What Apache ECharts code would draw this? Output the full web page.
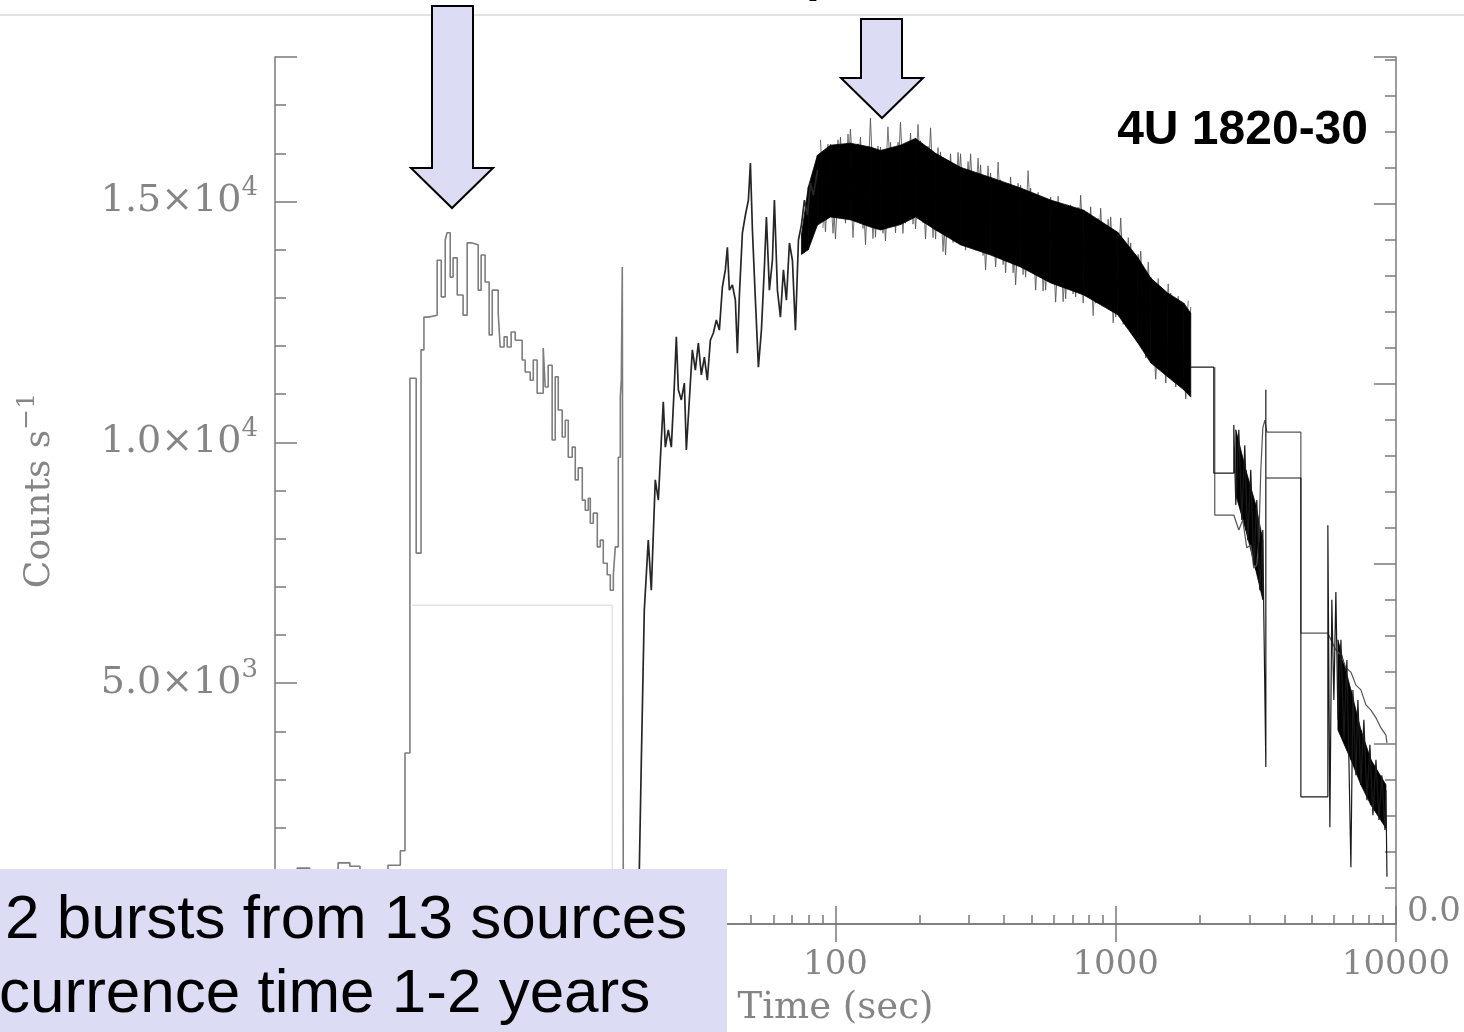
<!DOCTYPE html>
<html>
<head>
<meta charset="utf-8">
<script src="https://cdn.jsdelivr.net/npm/echarts@6/dist/echarts.min.js"></script>
<style>
  html, body { margin: 0; padding: 0; background: #fff; }
  #chart { width: 1464px; height: 1032px; }
</style>
</head>
<body>
<div id="chart"></div>
<script>
// ---- Light curve of the 4U 1820-30 superburst: counts per second vs time since onset ----

// Precursor burst (binned histogram), time in s, rate in counts/s
const precursorBurst = [
  [1.00,1060],[1.20,1160],[1.33,1080],[1.68,1270],[1.85,1200],[2.01,1080],[2.53,1220],[2.80,1520],
  [2.91,3550],[3.03,11330],[3.19,7700],[3.32,11920],[3.40,12600],[3.52,12640],[3.79,13780],[3.92,13020],
  [4.05,14200],[4.11,14350],[4.22,13430],[4.32,13830],[4.47,13060],[4.69,12640],[4.85,14140],[5.05,14100],
  [5.31,13160],[5.44,13890],[5.62,13330],[5.81,12230],[5.96,13160],[6.26,12680],[6.36,11980],[6.57,12190],
  [6.74,11980],[6.96,12290],[7.20,12120],[7.62,11710],[7.81,11460],[8.14,11290],[8.35,11710],[8.62,11020],
  [9.06,11960],[9.21,11150],[9.44,11600],[9.75,10050],[10.0,11360],[10.25,10670],[10.59,10110],[10.86,10460],
  [11.13,9690],[11.50,9900],[11.79,9220],[12.08,9470],[12.49,8800],[12.80,8590],[13.12,8840],[13.34,8320],
  [13.67,8530],[14.13,7830],[14.48,7970],[14.84,7490],[15.33,7250],[15.72,6930],[16.12,7250],[16.38,7830],
  [16.79,9690],[17.07,10940],[17.21,11290],[17.35,13640],[17.50,0],[19.79,0]
];

// Faint constant-level trace under the precursor
const faintLevel = [[3.09,6620],[15.98,6620],[15.98,0]];

// Rise of the superburst
const superburstRise = [
  [19.79,0],[20.29,3405],[20.79,6520],[21.48,7970],[22.02,6930],[22.75,9220],[23.33,8800],[23.91,10050],
  [24.30,10840],[24.71,9900],[25.32,10260],[25.96,9900],[26.61,11190],[27.05,12190],[27.50,11090],[28.18,10880],
  [28.89,11230],[29.37,9840],[30.10,10880],[30.85,11920],[31.62,11500],[32.41,12060],[33.22,11400],[34.05,11770],
  [34.90,11290],[35.77,12120],[36.67,12270],[37.58,12540],[38.52,12330],[39.48,13220],[40.46,13580],[41.14,14050],
  [41.82,13160],[42.87,13270],[43.94,12950],[44.67,11850],[45.41,13060],[46.55,14350],[47.71,14720],[48.90,15030],
  [49.71,15800],[50.54,14410],[51.80,12950],[53.09,11560],[54.42,12330],[55.77,13640],[56.70,14680],[58.11,13160],
  [59.57,13780],[60.55,15030],[62.07,13160],[63.62,12600],[65.21,13580],[66.83,12950],[68.50,14140],[70.21,13780],
  [71.97,12330],[73.77,14200],[75.60,14510],[77.49,15030],[79.43,14720],[81.41,15380],[83.45,15130],[86.24,15650]
];

// Dense plateau/decay: core of the scatter band (low and high edges)
const bandTime = [75.6,80.0,86.2,96.0,113.1,133.3,144.8,170.6,193.1,227.6,279.5,357.7,457.8,585.9,768.7,1017,1198,1334,1533,1750,1853];
const bandHigh = [14300,15300,15960,16170,16210,16130,16060,16170,16310,16000,15710,15500,15280,15030,14820,14360,13840,13410,13100,12890,12680];
const bandLow  = [13900,14000,14510,14680,14620,14470,14410,14520,14680,14410,14100,13890,13640,13310,13060,12650,12070,11650,11360,11090,10940];

// Individual excursions outside the core band (two interleaved sets)
const spikeTime = [88.4,92.1,96.0,100.0,104.2,108.6,113.1,117.9,122.8,128.0,133.3,138.9,144.8,150.8,157.2,163.8,170.6,177.8,185.3,193.1,
  201.2,209.6,218.4,227.6,237.1,247.1,257.4,268.3,279.5,291.2,303.5,316.2,329.5,343.3,357.7,372.8,388.4,404.7,421.7,439.4,
  457.8,477.0,497.1,517.9,539.7,562.3,585.9,610.5,636.1,662.8,690.6,719.6,749.8,781.3,814.1,848.2,883.8,920.9,959.6,1000,
  1042,1086,1131,1179,1228,1280,1334,1389,1448,1509,1572,1638,1706,1778,1853];
const spikeRate = [16280,14370,16190,14220,16340,14550,16500,14590,16340,14100,
  16730,14260,16130,14180,16230,14350,16650,14550,16420,14430,
  16260,14220,16530,14220,16030,13890,15990,14200,15990,13990,
  15990,13990,15760,13580,15590,13640,15450,13520,15510,13270,
  15340,13430,15280,13160,15030,13160,15090,12910,14910,12980,
  14930,13020,15130,13080,14890,12890,14860,12870,14680,12600,
  14660,12410,14140,12190,13970,11750,13430,11310,13200,11230,
  13100,11150,12870,10900,12810];
const spikeTime2 = [90.2,94.0,98.0,102.1,106.4,110.9,115.5,120.4,125.4,130.7,136.1,141.8,147.8,153.9,160.5,167.2,174.1,181.5,189.2,197.1,
  205.4,214.0,222.9,232.3,242.0,252.2,262.8,273.9,285.3,297.3,309.8,322.8,336.3,350.4,365.1,380.6,396.5,413.1,430.5,448.5,
  467.3,486.9,507.4,528.7,550.9,574.0,598.1,623.2,649.3,676.6,705.0,734.6,765.4,797.5,831.0,865.8,902.2,940.1,979.5,1021,
  1064,1109,1155,1203,1254,1307,1362,1418,1478,1540,1605,1672,1742,1815];
const spikeRate2 = [14450,16190,14340,16280,14660,16400,14250,16200,14440,16100,
  14230,16150,14340,16550,14540,16230,14340,16180,14530,16600,
  14560,16150,14250,16120,13960,15850,14150,16020,14080,15830,
  14120,15900,13880,15740,13890,15820,13690,15380,13520,15380,
  13480,15640,13570,15190,13140,15020,13320,15110,12920,14790,
  13080,14880,12890,14730,12630,14650,12920,14630,12480,14290,
  12450,14250,12310,13900,11940,13740,11610,13400,11560,13290,
  11280,13030,11210,12940];

// Late orbits: dense segments (low and high edges)
const lateBandATime = [2683,2912,3162,3350];
const lateBandAHigh = [10260,9430,8700,7970];
const lateBandALow  = [8910,8180,7350,6730];
const lateBandBTime = [6209,6907,7499,8143,9211];
const lateBandBHigh = [5900,4860,4030,3410,2890];
const lateBandBLow  = [4030,3410,2890,2470,1990];

// Late orbits: binned averages and individual traces
const lateTraceA = [
  [1853,11560],[2239,11560],[2239,9360],[2639,9360],[2639,10360],[2683,8700],[2750,10260],[2818,8390],[2888,9940],
  [2960,7970],[3034,9430],[3111,7450],[3188,8800],[3268,6930],[3350,8180],[3378,6370],[3434,3260],[3434,11090],
  [3434,9260],[4579,9260],[4579,2640],[5716,2640],[5716,8280],[5812,2010],[5906,6730],[6005,4650],[6105,6890],
  [6209,4240],[6364,5900],[6523,3820],[6683,5480],[6795,3410],[6907,1180],[7022,4860],[7197,3090],[7316,4650],
  [7499,2890],[7686,4240],[7878,2570],[8076,3720],[8278,2260],[8486,3410],[8698,2160],[8913,3090],[9135,1950],
  [9211,2780],[9290,980]
];
const lateTraceB = [
  [2257,11560],[2257,8490],[2639,8490],[2750,8180],[2840,8390],[2936,7810],[3034,7870],[3111,7390],[3188,7450],
  [3241,7970],[3295,9430],[3350,10300],[3406,10460],[3463,10210],[4579,10210],[4579,6040],[5716,6040],[5860,5900],
  [6105,5690],[6364,5580],[6630,5320],[6907,5230],[7197,4960],[7499,4860],[7815,4550],[8143,4440],[8486,4280],
  [8842,4070],[9211,3920],[9290,3760]
];

// Axis ticks
const timeMinorTicks = [2,3,4,5,6,7,8,9,20,30,40,50,60,70,80,90,200,300,400,500,600,700,800,900,
  2000,3000,4000,5000,6000,7000,8000,9000];
const rateMax = 18000;
const rightAxisMax = 4.8167;

const SERIF = "'DejaVu Serif', 'Liberation Serif', serif";
const SANS = "'Liberation Sans', Arial, sans-serif";
const AXIS = '#7a7a7a';
const LABEL = '#858585';
const LAVENDER = '#dcdcf5';

const zip = (t, v) => t.map((x, i) => [x, v[i]]);

function trace(data, color, width, extra) {
  return Object.assign({
    type: 'line', data, symbol: 'none', showSymbol: false, silent: true,
    lineStyle: { color, width }, itemStyle: { color }, clip: true, z: 4
  }, extra || {});
}

// Filled band between a low and a high edge, one quad per pair of samples
function band(time, low, high) {
  const segs = [];
  for (let i = 0; i < time.length - 1; i++) {
    segs.push([time[i], low[i], high[i], time[i + 1], low[i + 1], high[i + 1]]);
  }
  return {
    type: 'custom', silent: true, clip: true, data: segs, z: 3,
    encode: { x: [0, 3], y: [1, 2, 4, 5] },
    renderItem: (params, api) => {
      const p1 = api.coord([api.value(0), api.value(2)]);
      const p2 = api.coord([api.value(3), api.value(5)]);
      const p3 = api.coord([api.value(3), api.value(4)]);
      const p4 = api.coord([api.value(0), api.value(1)]);
      return {
        type: 'polygon', shape: { points: [p1, p2, p3, p4] },
        style: { fill: '#000', stroke: '#000', lineWidth: 0.8 }
      };
    }
  };
}

const tickStyle = { color: AXIS, width: 1.5 };

const option = {
  animation: false,
  backgroundColor: '#ffffff',
  grid: { left: 275, right: 68, top: 57, bottom: 108 },
  xAxis: [
    {
      type: 'log', logBase: 10, min: 1, max: 10000, position: 'bottom',
      axisLine: { show: true, lineStyle: tickStyle },
      axisTick: { show: true, inside: true, length: 18, lineStyle: tickStyle },
      splitLine: { show: false },
      axisLabel: {
        formatter: v => String(Math.round(v)),
        fontFamily: SERIF, fontSize: 34, color: LABEL, margin: 24
      },
      name: 'Time (sec)', nameLocation: 'middle', nameGap: 66,
      nameTextStyle: { fontFamily: SERIF, fontSize: 37, color: LABEL }
    },
    {
      type: 'log', logBase: 10, min: 1, max: 10000, position: 'bottom',
      axisLine: { show: false },
      axisTick: { show: true, inside: true, length: 9, customValues: timeMinorTicks, lineStyle: tickStyle },
      axisLabel: { show: false }, splitLine: { show: false }
    },
    {
      type: 'log', logBase: 10, min: 1, max: 10000, position: 'top',
      axisLine: { show: true, lineStyle: tickStyle },
      axisTick: { show: true, inside: true, length: 18, lineStyle: tickStyle },
      axisLabel: { show: false }, splitLine: { show: false }
    }
  ],
  yAxis: [
    {
      type: 'value', min: 0, max: rateMax, interval: 5000, position: 'left',
      axisLine: { show: true, lineStyle: tickStyle },
      axisTick: { show: true, inside: true, length: 22, lineStyle: tickStyle },
      splitLine: { show: false },
      axisLabel: {
        margin: 17,
        formatter: v => {
          if (v <= 0 || v > 15000) return '';
          const e = Math.floor(Math.log10(v));
          const m = (v / Math.pow(10, e)).toFixed(1);
          return '{m|' + m + '×10}{e|' + e + '}';
        },
        rich: {
          m: { fontFamily: SERIF, fontSize: 38, color: LABEL, lineHeight: 52 },
          e: { fontFamily: SERIF, fontSize: 26, color: LABEL, lineHeight: 22, verticalAlign: 'top' }
        }
      },
      name: '{a|Counts s}{b|−1}', nameLocation: 'middle', nameGap: 210,
      nameTextStyle: {
        rich: {
          a: { fontFamily: SERIF, fontSize: 36, color: LABEL, lineHeight: 50 },
          b: { fontFamily: SERIF, fontSize: 25, color: LABEL, lineHeight: 22, verticalAlign: 'top' }
        }
      }
    },
    {
      type: 'value', min: 0, max: rateMax, interval: 1000, position: 'left',
      axisLine: { show: false },
      axisTick: { show: true, inside: true, length: 11, lineStyle: tickStyle },
      axisLabel: { show: false }, splitLine: { show: false }
    },
    {
      type: 'value', min: 0, max: rightAxisMax, interval: 1, position: 'right',
      axisLine: { show: true, lineStyle: tickStyle },
      axisTick: { show: true, inside: true, length: 22, lineStyle: tickStyle },
      splitLine: { show: false },
      axisLabel: {
        formatter: v => (v === 0 ? '0.0' : ''),
        fontFamily: SERIF, fontSize: 34, color: LABEL, margin: 11,
        verticalAlign: 'bottom', lineHeight: 24
      }
    },
    {
      type: 'value', min: 0, max: rightAxisMax, interval: 0.2, position: 'right',
      axisLine: { show: false },
      axisTick: { show: true, inside: true, length: 11, lineStyle: tickStyle },
      axisLabel: { show: false }, splitLine: { show: false }
    }
  ],
  series: [
    trace(faintLevel, '#e4e4e4', 1.5, { z: 2 }),
    trace(precursorBurst, '#7d7d7d', 1.6, { step: 'end', z: 2 }),
    trace(zip(spikeTime, spikeRate), '#555555', 0.9, { z: 2 }),
    trace(zip(spikeTime2, spikeRate2), '#666666', 0.9, { z: 2 }),
    band(bandTime, bandLow, bandHigh),
    trace(superburstRise, '#262626', 1.7),
    band(lateBandATime, lateBandALow, lateBandAHigh),
    band(lateBandBTime, lateBandBLow, lateBandBHigh),
    trace(lateTraceB, '#555555', 1.2),
    trace(lateTraceA, '#1a1a1a', 1.2)
  ],
  graphic: [
    { type: 'line', z: 90, shape: { x1: 0, y1: 15, x2: 1464, y2: 15 }, style: { stroke: '#e2e2e2', lineWidth: 2 } },
    { type: 'text', z: 90, x: 806, y: -23,
      style: { text: 'p', font: 'bold 50px ' + SANS, fill: '#000', align: 'left', verticalAlign: 'middle' } },
    { type: 'polygon', z: 100,
      shape: { points: [[432,6],[473,6],[473,168],[493,168],[452,208],[411,168],[432,168]] },
      style: { fill: LAVENDER, stroke: '#000', lineWidth: 2 } },
    { type: 'polygon', z: 100,
      shape: { points: [[861,19],[902,19],[902,78],[923,78],[882,118],[841,78],[861,78]] },
      style: { fill: LAVENDER, stroke: '#000', lineWidth: 2 } },
    { type: 'text', z: 100, x: 1368, y: 131,
      style: { text: '4U 1820-30', font: 'bold 48px ' + SANS, fill: '#000', align: 'right', verticalAlign: 'middle' } },
    { type: 'rect', z: 100, shape: { x: 0, y: 869, width: 727, height: 163 }, style: { fill: LAVENDER } },
    { type: 'text', z: 101, x: 5, y: 921,
      style: { text: '2 bursts from 13 sources', font: '62px ' + SANS, fill: '#000', align: 'left', verticalAlign: 'middle' } },
    { type: 'text', z: 101, x: -1, y: 995,
      style: { text: 'currence time 1-2 years', font: '62px ' + SANS, fill: '#000', align: 'left', verticalAlign: 'middle' } }
  ]
};

const chart = echarts.init(document.getElementById('chart'), null, { renderer: 'canvas' });
chart.setOption(option);
</script>
</body>
</html>
